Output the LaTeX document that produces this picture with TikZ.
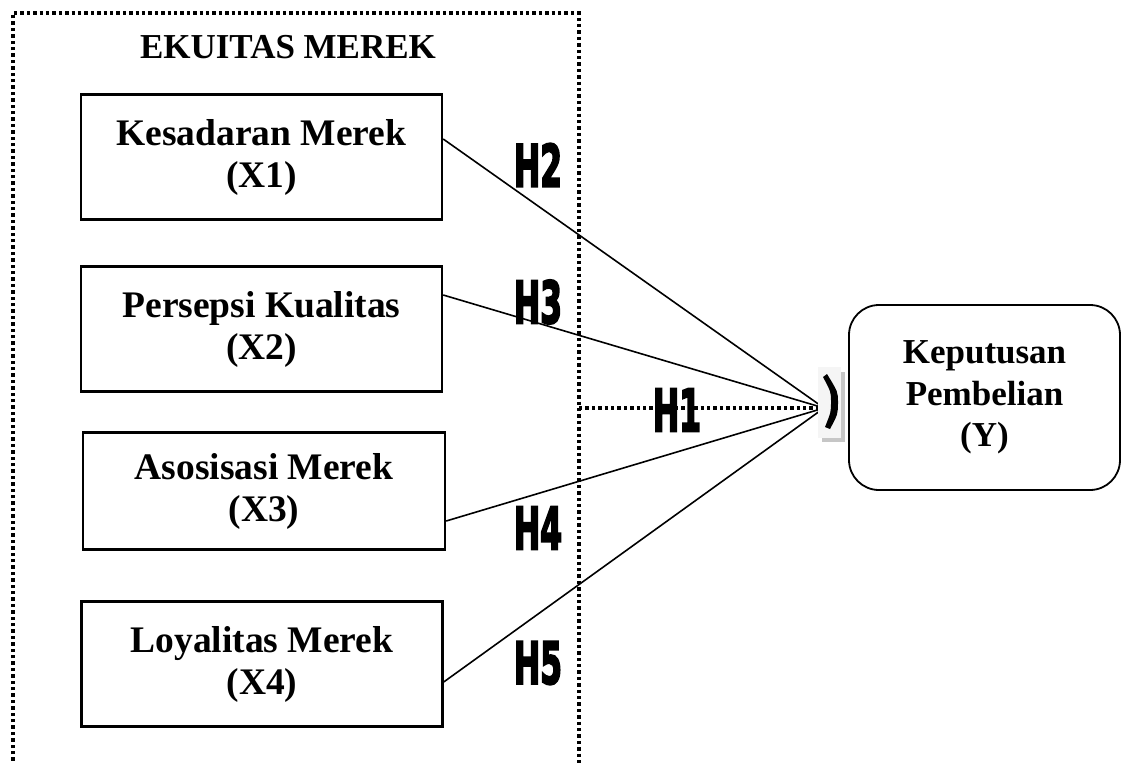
\documentclass[tikz,border=0pt]{standalone}
\usepackage{fontspec}
\usepackage{graphicx}
\setmainfont{Liberation Serif}
\newfontfamily\hfont[FakeBold=4]{DejaVu Sans Condensed Bold}
\begin{document}
\begin{tikzpicture}[x=1pt,y=-1pt,
  varbox/.style={draw,line width=2.4pt,minimum width=361pt,minimum height=125pt,align=center,font=\fontsize{37.5}{42}\selectfont\bfseries,inner sep=0pt},
  ybox/.style={draw,line width=1.8pt,rounded corners=30pt,minimum width=271pt,minimum height=185pt,align=center,font=\fontsize{35}{41.5}\selectfont\bfseries,inner sep=0pt},
  hlab/.style={inner sep=0pt,font=\hfont\fontsize{58}{58}\selectfont},
  dots/.style={line width=3.6pt,dash pattern=on 3.4pt off 3pt},
  link/.style={line width=1.6pt}]
\useasboundingbox (0,0) rectangle (1133,763);
\begin{scope}
\clip (0,0) rectangle (1133,763);
\draw[dots] (13,780) -- (13,13) -- (579,13) -- (579,780);
\end{scope}
\node[font=\fontsize{35}{38}\selectfont\bfseries] (title) at (288,47) {EKUITAS MEREK};
\node[varbox] (x1) at (261.5,157) {Kesadaran Merek\\(X1)\rule[-6pt]{0pt}{6pt}};
\node[varbox] (x2) at (261.5,329) {Persepsi Kualitas\\(X2)\rule[-6pt]{0pt}{6pt}};
\node[varbox,minimum width=362pt,minimum height=117pt] (x3) at (264,491) {Asosisasi Merek\\(X3)\rule[-6pt]{0pt}{6pt}};
\node[varbox] (x4) at (262,664) {Loyalitas Merek\\(X4)\rule[-6pt]{0pt}{6pt}};
\node[ybox] (y) at (984.5,397.5) {Keputusan\\Pembelian\\(Y)};
\coordinate (conv) at (824,408);
\coordinate (h1s) at (579,408);
\draw[dots] (h1s) -- (818,408);
\draw[link] (x1.east |- 0,139) -- (conv);
\draw[link] (x2.east |- 0,295) -- (conv);
\draw[link] (x3.east |- 0,521) -- (conv);
\draw[link] (x4.east |- 0,682) -- (conv);
% chevron marker
\fill[gray!45] (822,372) rectangle (845,442);
\fill[gray!8] (818,367) rectangle (841,438);
\fill[black] (827,374) .. controls (838,392) .. (838,402) .. controls (838,414) .. (830,429) -- (825,427) .. controls (831,412) .. (831,402) .. controls (831,392) .. (823,377) -- cycle;
\node[hlab] (h2) at (538,165) {\scalebox{0.6}[1]{H2}};
\node[hlab] (h3) at (538,302) {\scalebox{0.6}[1]{H3}};
\node[hlab] (h1) at (677,410) {\scalebox{0.6}[1]{H1}};
\node[hlab] (h4) at (538,528) {\scalebox{0.6}[1]{H4}};
\node[hlab] (h5) at (538,663) {\scalebox{0.6}[1]{H5}};
\end{tikzpicture}
\end{document}
